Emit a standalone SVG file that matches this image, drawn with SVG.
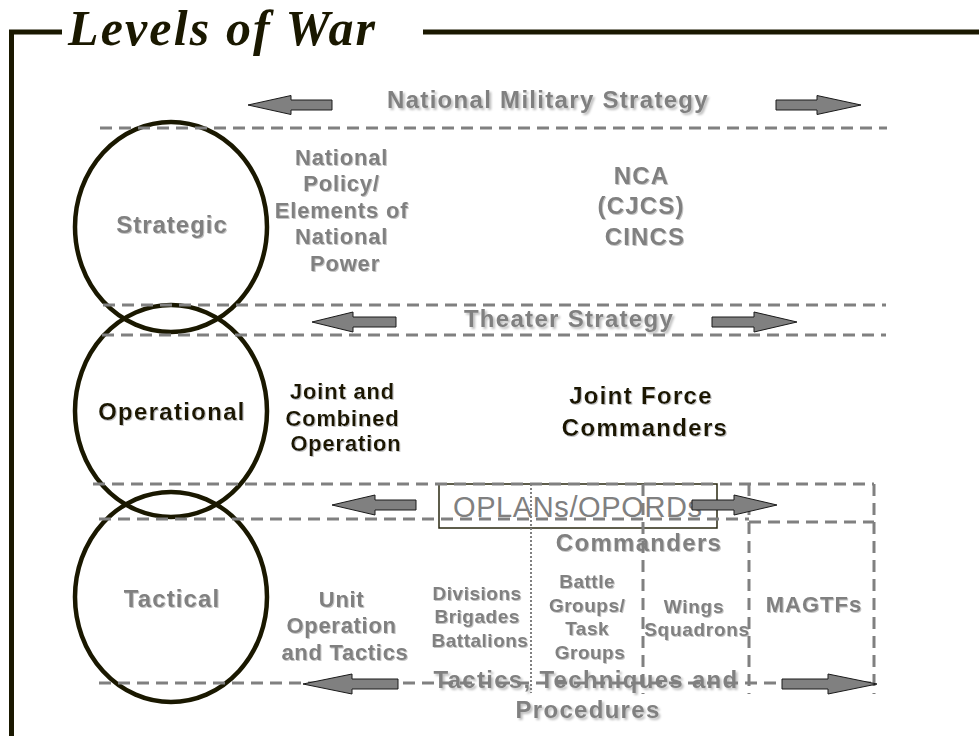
<svg xmlns="http://www.w3.org/2000/svg" width="979" height="736" viewBox="0 0 979 736">
<style>
.frame{stroke:#1a1800;stroke-width:5;fill:none}
.ell{stroke:#1a1800;stroke-width:4.5;fill:none}
.dash{stroke:#808080;stroke-width:3;stroke-dasharray:12 7;fill:none}
.dot{stroke:#808080;stroke-width:2;stroke-dasharray:2 2;fill:none}
.arr{fill:#808080;stroke:#1a1a1a;stroke-width:1}
.t{font-family:"Liberation Sans",Arial,sans-serif;font-weight:bold;text-anchor:middle}
.g{fill:#808080}
.k{fill:#1a1800}
.h{font-size:24px;letter-spacing:1.3px;filter:url(#shb)}
.s{filter:url(#sh)}
</style>
<defs>
<filter id="sh" x="-10%" y="-20%" width="130%" height="150%"><feDropShadow dx="1" dy="1" stdDeviation="0.6" flood-color="#c4c4c4"/></filter>
<filter id="shb" x="-10%" y="-20%" width="130%" height="160%"><feDropShadow dx="2" dy="2" stdDeviation="1" flood-color="#bdbdbd"/></filter>
</defs>
<rect width="979" height="736" fill="#ffffff"/>

<g id="frame">
<polyline class="frame" points="62,32 11.5,32 11.5,736"/>
<line class="frame" x1="423" y1="32" x2="979" y2="32"/>
<text x="68" y="45" font-family="'Liberation Serif','Times New Roman',serif" font-weight="bold" font-style="italic" font-size="50" fill="#1a1800" textLength="307" lengthAdjust="spacing">Levels of War</text>
</g>

<g id="level-labels">
<text class="t g h" x="548" y="108">National Military Strategy</text>
<text class="t g h" x="569" y="327" letter-spacing="1">Theater Strategy</text>
<text class="t g h" x="586" y="688">Tactics, Techniques and</text>
<text class="t g h" x="588" y="718" letter-spacing="1.2">Procedures</text>
</g>

<g id="strategic">
<ellipse class="ell" cx="171" cy="227" rx="96" ry="105"/>
<text class="t g s" x="172" y="233" font-size="24" letter-spacing="1">Strategic</text>
</g>
<g id="operational">
<ellipse class="ell" cx="171" cy="411" rx="96" ry="106"/>
<text class="t k s" x="172" y="420" font-size="24" letter-spacing="1.3">Operational</text>
</g>
<g id="tactical">
<ellipse class="ell" cx="171" cy="597" rx="96" ry="105"/>
<text class="t g s" x="172" y="607" font-size="24" letter-spacing="1.1">Tactical</text>
</g>

<g id="national-policy">
<text class="t g s" font-size="22" letter-spacing="0.8">
<tspan x="345" y="165">National</tspan>
<tspan x="345" y="191">Policy/</tspan>
<tspan x="345" y="218">Elements of</tspan>
<tspan x="345" y="244">National</tspan>
<tspan x="345" y="271">Power</tspan>
</text>
</g>
<g id="nca">
<text class="t g s" font-size="24" letter-spacing="1.2">
<tspan x="645" y="184">NCA</tspan>
<tspan x="645" y="214">(CJCS)</tspan>
<tspan x="645" y="245">CINCS</tspan>
</text>
</g>
<g id="joint-combined">
<text class="t k s" font-size="22" letter-spacing="0.8">
<tspan x="346" y="399">Joint and</tspan>
<tspan x="346" y="426">Combined</tspan>
<tspan x="346" y="451">Operation</tspan>
</text>
</g>
<g id="jfc">
<text class="t k s" font-size="24" letter-spacing="1.3">
<tspan x="645" y="404">Joint Force</tspan>
<tspan x="645" y="436">Commanders</tspan>
</text>
</g>

<g id="oplans">
<rect x="439" y="484" width="278" height="44" fill="none" stroke="#2a2810" stroke-width="1.5"/>
<text x="453" y="517" font-family="'Liberation Sans',Arial,sans-serif" font-size="29" fill="#808080" textLength="249" lengthAdjust="spacing">OPLANs/OPORDs</text>
</g>
<g id="commanders">
<text class="t g s" x="639" y="551" font-size="24" letter-spacing="1.3">Commanders</text>
</g>
<g id="unit-ops">
<text class="t g s" font-size="22" letter-spacing="0.7">
<tspan x="345" y="607">Unit</tspan>
<tspan x="345" y="633">Operation</tspan>
<tspan x="345" y="660">and Tactics</tspan>
</text>
</g>
<g id="divisions">
<text class="t g s" font-size="19" letter-spacing="0.5">
<tspan x="480" y="600">Divisions</tspan>
<tspan x="480" y="623">Brigades</tspan>
<tspan x="480" y="647">Battalions</tspan>
</text>
</g>
<g id="battle-groups">
<text class="t g s" font-size="19" letter-spacing="0.5">
<tspan x="590" y="588">Battle</tspan>
<tspan x="590" y="612">Groups/</tspan>
<tspan x="590" y="635">Task</tspan>
<tspan x="590" y="659">Groups</tspan>
</text>
</g>
<g id="wings">
<text class="t g s" font-size="19" letter-spacing="0.7">
<tspan x="697" y="613">Wings</tspan>
<tspan x="697" y="636">Squadrons</tspan>
</text>
</g>
<g id="magtfs">
<text class="t g s" x="814" y="612" font-size="22" letter-spacing="1">MAGTFs</text>
</g>

<g id="connectors">
<line class="dash" x1="100" y1="128" x2="887" y2="128"/>
<line class="dash" x1="103" y1="305" x2="886" y2="305"/>
<line class="dash" x1="102" y1="335" x2="886" y2="335"/>
<line class="dash" x1="93" y1="484" x2="874" y2="484"/>
<line class="dash" x1="99" y1="519" x2="749" y2="519"/>
<line class="dash" x1="749" y1="522" x2="874" y2="522"/>
<line class="dash" x1="749" y1="484" x2="749" y2="694"/>
<line class="dash" x1="874" y1="484" x2="874" y2="694"/>
<line class="dash" x1="643" y1="484" x2="643" y2="694"/>
<line class="dot" x1="531" y1="484" x2="531" y2="693"/>
<line class="dash" x1="99" y1="683" x2="876" y2="683"/>

<polygon class="arr" points="248,105 291,95.5 291,100 332,100 332,110 291,110 291,114.5"/>
<polygon class="arr" points="861,105 817,95.5 817,100 776,100 776,110 817,110 817,114.5"/>
<polygon class="arr" points="312,322 353,312 353,317 396,317 396,327 353,327 353,332"/>
<polygon class="arr" points="797,322 754,312 754,317 712,317 712,327 754,327 754,332"/>
<polygon class="arr" points="332,505 375,495 375,500 416,500 416,510 375,510 375,515"/>
<polygon class="arr" points="777,505 734,495 734,500 692,500 692,510 734,510 734,515"/>
<polygon class="arr" points="303,684 352,674 352,679 398,679 398,689 352,689 352,694"/>
<polygon class="arr" points="877,684 828,674 828,679 782,679 782,689 828,689 828,694"/>
</g>
</svg>
